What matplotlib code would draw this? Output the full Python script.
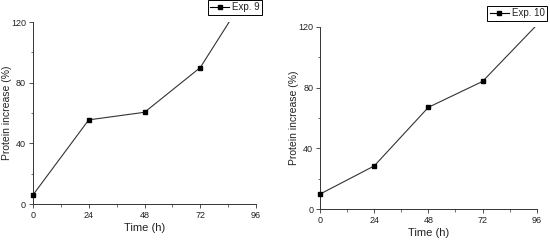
import numpy as np
import matplotlib
matplotlib.use("Agg")
import matplotlib.pyplot as plt
from matplotlib.ticker import MultipleLocator

plt.rcParams['font.family'] = ['Liberation Sans', 'DejaVu Sans']

time_h = [0, 24, 48, 72, 96]
exp9 = [6, 55.5, 60.5, 90, 148]
exp10 = [10, 28.5, 67, 84, 121]
xticks = [0, 24, 48, 72, 96]
yticks = [0, 40, 80, 120]

fig = plt.figure(figsize=(5.5, 2.4), dpi=100)
axes_pos = [[0.06, 0.15, 0.4055, 0.758], [0.582, 0.128, 0.3938, 0.761]]
legend_anchor = [(0.477, 1.0), (0.995, 0.975)]
ylabel_x = [-0.094, -0.096]
series = [("Exp. 9", exp9), ("Exp. 10", exp10)]
txt = '#222222'

for pos, (label, vals), anc, lx in zip(axes_pos, series, legend_anchor, ylabel_x):
    ax = fig.add_axes(pos)
    x = np.array(time_h, dtype=float)
    y = np.array(vals, dtype=float)
    ax.plot(x, y, '-', color='#333333', lw=0.8, clip_on=True)
    m = y <= 120
    ax.plot(x[m], y[m], 's', color='black', ms=3.0, clip_on=False, zorder=5)
    ax.set_xlim(0, 96)
    ax.set_ylim(0, 120)
    ax.set_xticks(xticks)
    ax.set_yticks(yticks)
    ax.xaxis.set_minor_locator(MultipleLocator(12))
    ax.yaxis.set_minor_locator(MultipleLocator(20))
    ax.spines['top'].set_visible(False)
    ax.spines['right'].set_visible(False)
    for s in ['left', 'bottom']:
        ax.spines[s].set_linewidth(0.7)
        ax.spines[s].set_color('#333333')
    ax.tick_params(which='major', length=3, width=0.6, labelsize=6.5, colors='#333333', labelcolor=txt, pad=2)
    ax.tick_params(which='minor', length=1.8, width=0.5, colors='#333333')
    ax.set_xlabel("Time (h)", fontsize=8, color=txt, labelpad=2)
    ax.set_ylabel("Protein increase (%)", fontsize=7.5, color=txt)
    ax.yaxis.set_label_coords(lx, 0.5)
    h, = ax.plot([], [], '-s', color='black', lw=0.8, ms=3.0)
    fig.legend([h], [label], loc='upper right', bbox_to_anchor=anc, fontsize=7,
               frameon=True, fancybox=False, edgecolor='black', framealpha=1,
               handlelength=2.0, handletextpad=0.3, borderpad=0.25, borderaxespad=0)
    leg = fig.legends[-1]
    leg.get_frame().set_linewidth(0.7)
    for t in leg.get_texts():
        t.set_color(txt)

fig.savefig("out.png", dpi=100)
